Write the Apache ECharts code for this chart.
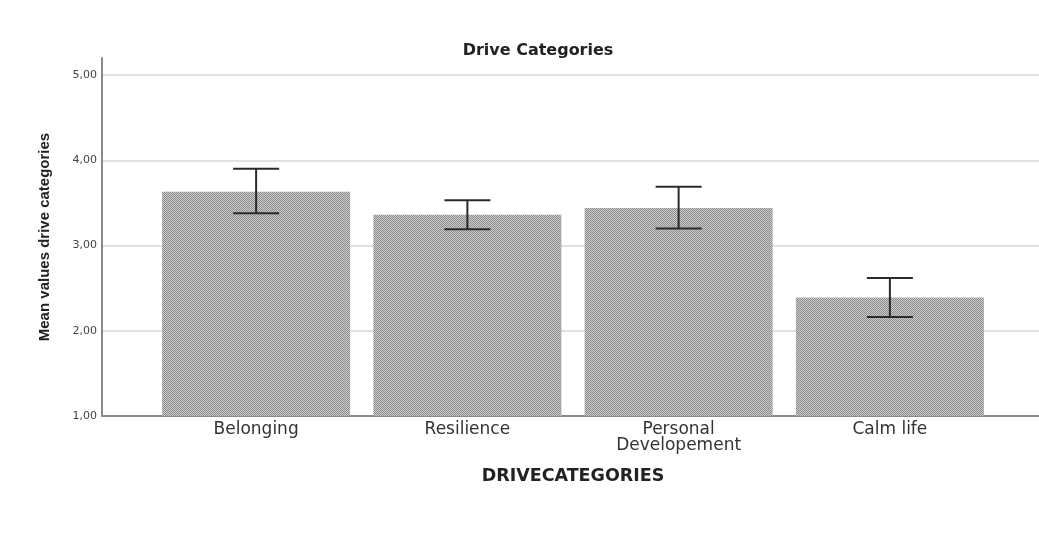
<!DOCTYPE html>
<html>
<head>
<meta charset="utf-8">
<script src="https://cdn.jsdelivr.net/npm/echarts@6/dist/echarts.min.js"></script>
<style>html,body{margin:0;padding:0;background:#fff}#c{width:1039px;height:535px}</style>
</head>
<body>
<div id="c"></div>
<script>
const categories = ['Belonging', 'Resilience', 'Personal\nDevelopement', 'Calm life'];
const meanValues = [3.63, 3.36, 3.44, 2.39];
const ciLow = [3.38, 3.19, 3.20, 2.16];
const ciHigh = [3.90, 3.53, 3.69, 2.62];
const yTicks = [1, 2, 3, 4, 5];

function makePattern() {
  const c = document.createElement('canvas');
  c.width = 2; c.height = 2;
  const g = c.getContext('2d');
  g.fillStyle = '#cbcbcb'; g.fillRect(0, 0, 2, 2);
  g.fillStyle = '#8c8c8c'; g.fillRect(0, 0, 1, 1); g.fillRect(1, 1, 1, 1);
  return c;
}

const chart = echarts.init(document.getElementById('c'), null, {renderer: 'canvas'});
const errData = categories.map((c, i) => [i, ciLow[i], ciHigh[i]]);
const axisGray = '#8a8a8a';
const font = "'DejaVu Sans', Verdana, sans-serif";
const nameFont = "'Liberation Sans', Arial, sans-serif";

chart.setOption({
  animation: false,
  backgroundColor: '#fff',
  title: {
    text: 'Drive Categories',
    left: 533, top: 38, textAlign: 'center',
    textStyle: {fontFamily: font, fontSize: 16, fontWeight: 'bold', color: '#222'}
  },
  graphic: [{
    type: 'text', x: 573, y: 467,
    style: {text: 'DRIVECATEGORIES', textAlign: 'center', textVerticalAlign: 'top',
            fontFamily: font, fontSize: 17.5, fontWeight: 'bold', fill: '#222'}
  }],
  grid: [
    {left: 102, right: 0, top: 58, bottom: 119},
    {left: 150.5, right: 43.5, top: 58, bottom: 119}
  ],
  xAxis: [
    {type: 'value', gridIndex: 0, min: 0, max: 1,
     axisLine: {show: true, onZero: false, lineStyle: {color: axisGray, width: 2}},
     axisTick: {show: false}, axisLabel: {show: false}, splitLine: {show: false}},
    {type: 'category', gridIndex: 1, data: categories,
     axisLine: {show: false}, axisTick: {show: false},
     axisLabel: {margin: 6, fontFamily: font, fontSize: 17, color: '#333', lineHeight: 16, interval: 0}}
  ],
  yAxis: [
    {type: 'value', gridIndex: 0, min: 1, max: 5.2, interval: 1,
     name: 'Mean values drive categories', nameLocation: 'middle', nameGap: 50,
     nameTextStyle: {fontFamily: nameFont, fontSize: 15, fontWeight: 'bold', color: '#222'},
     axisLine: {show: true, lineStyle: {color: axisGray, width: 2}},
     axisTick: {show: false},
     axisLabel: {margin: 5, fontFamily: font, fontSize: 11, color: '#444',
       formatter: v => yTicks.indexOf(v) >= 0 ? v.toFixed(2).replace('.', ',') : ''},
     splitLine: {show: true, showMinLine: false, showMaxLine: false, lineStyle: {color: '#d6d6d6', width: 1.5}}},
    {type: 'value', gridIndex: 1, min: 1, max: 5.2, show: false, splitLine: {show: false}}
  ],
  series: [
    {type: 'bar', xAxisIndex: 1, yAxisIndex: 1, data: meanValues, barWidth: 188,
     itemStyle: {color: {image: makePattern(), repeat: 'repeat'}}, z: 2},
    {type: 'custom', xAxisIndex: 1, yAxisIndex: 1, data: errData, z: 5,
     renderItem: function (params, api) {
       const i = api.value(0);
       const lo = api.coord([i, api.value(1)]);
       const hi = api.coord([i, api.value(2)]);
       const hw = 23;
       const st = {stroke: '#2a2a2a', lineWidth: 2};
       return {type: 'group', children: [
         {type: 'line', shape: {x1: lo[0], y1: lo[1], x2: hi[0], y2: hi[1]}, style: st},
         {type: 'line', shape: {x1: hi[0] - hw, y1: hi[1], x2: hi[0] + hw, y2: hi[1]}, style: st},
         {type: 'line', shape: {x1: lo[0] - hw, y1: lo[1], x2: lo[0] + hw, y2: lo[1]}, style: st}
       ]};
     }}
  ]
});
</script>
</body>
</html>
